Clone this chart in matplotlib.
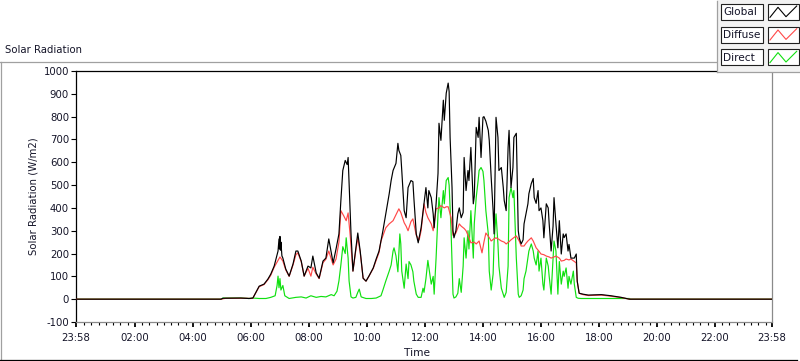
import matplotlib
matplotlib.use("Agg")
import matplotlib.pyplot as plt
from matplotlib.lines import Line2D
from matplotlib.patches import Rectangle
import numpy as np

# ---------------- data (time in minutes since midnight, W/m2) ----------------
global_t = [-2, 298, 302, 339, 356, 364, 377, 387, 395, 401, 408, 416, 418, 419, 420, 421, 422, 424, 426, 432,
            439, 447, 453, 457, 464, 470, 478, 484, 488, 495, 501, 509, 515, 521, 530, 536, 542, 546, 550, 555,
            559, 561, 563, 567, 571, 577, 581, 586, 592, 598, 604, 613, 619, 625, 633, 639, 646, 650, 654, 660,
            664, 666, 670, 672, 677, 681, 685, 691, 695, 697, 702, 706, 708, 712, 718, 722, 726, 728, 733, 737,
            739, 743, 747, 749, 753, 758, 760, 764, 768, 770, 772, 776, 778, 780, 784, 788, 791, 795, 799, 801,
            805, 809, 811, 815, 820, 822, 826, 830, 832, 836, 840, 842, 846, 851, 853, 857, 861, 863, 867, 871,
            873, 878, 882, 884, 888, 892, 894, 898, 902, 904, 909, 913, 915, 919, 923, 925, 929, 933, 935, 940,
            944, 946, 950, 954, 956, 960, 964, 966, 971, 975, 977, 981, 985, 987, 991, 995, 998, 1002, 1006, 1008,
            1012, 1016, 1018, 1022, 1029, 1033, 1035, 1039, 1047, 1058, 1085, 1105, 1126, 1143, 1438]
global_v = [0, 0, 4, 5, 3, 5, 57, 66, 88, 110, 145, 211, 264, 220, 275, 215, 250, 190, 180, 132,
            101, 154, 211, 211, 167, 101, 145, 137, 189, 115, 92, 167, 180, 264, 159, 220, 286, 432, 564, 608,
            590, 621, 507, 286, 123, 225, 290, 211, 92, 79, 101, 137, 176, 211, 300, 374, 462, 520, 564, 595,
            683, 652, 630, 564, 388, 357, 489, 520, 515, 445, 286, 247, 270, 313, 418, 489, 400, 476, 445, 374,
            313, 418, 551, 771, 696, 872, 784, 903, 947, 910, 709, 489, 300, 269, 300, 374, 400, 357, 380, 621,
            476, 564, 520, 665, 418, 450, 753, 709, 797, 621, 797, 800, 780, 740, 696, 533, 388, 286, 797, 709,
            564, 577, 489, 432, 388, 665, 740, 489, 577, 709, 727, 300, 269, 242, 260, 330, 374, 418, 462, 507,
            529, 445, 420, 476, 388, 400, 344, 269, 418, 400, 330, 211, 320, 445, 330, 225, 344, 198, 286, 270,
            286, 211, 240, 180, 180, 198, 79, 26, 22, 18, 20, 15, 8, 0, 0]

diffuse_t = [-2, 298, 308, 350, 360, 364, 377, 387, 395, 401, 408, 416, 420, 426, 432, 439, 447, 453, 457, 464,
             470, 478, 484, 488, 495, 501, 509, 515, 521, 530, 536, 542, 546, 552, 557, 561, 565, 571, 577, 581,
             586, 592, 598, 604, 613, 619, 625, 629, 639, 646, 654, 660, 666, 670, 677, 681, 685, 691, 695, 702,
             708, 712, 718, 722, 726, 733, 737, 743, 749, 753, 760, 764, 768, 774, 778, 784, 791, 795, 801, 805,
             811, 815, 822, 826, 832, 838, 842, 846, 853, 857, 863, 867, 873, 878, 884, 888, 894, 898, 904, 909,
             915, 919, 925, 929, 933, 940, 944, 950, 956, 960, 966, 971, 977, 981, 987, 991, 998, 1002, 1008, 1012,
             1018, 1022, 1029, 1033, 1035, 1039, 1047, 1058, 1085, 1105, 1126, 1143, 1438]
diffuse_v = [0, 0, 4, 4, 3, 5, 55, 64, 85, 105, 140, 170, 185, 167, 128, 100, 150, 195, 203, 165,
             101, 135, 101, 140, 110, 90, 160, 175, 211, 150, 176, 250, 388, 365, 344, 378, 286, 123, 215, 269,
             205, 92, 79, 100, 135, 170, 205, 255, 313, 330, 344, 370, 396, 380, 335, 320, 300, 340, 352, 280,
             260, 300, 418, 380, 357, 330, 300, 396, 400, 410, 400, 405, 405, 357, 280, 290, 330, 320, 310, 300,
             270, 247, 250, 242, 255, 203, 250, 290, 270, 255, 265, 269, 262, 255, 250, 242, 252, 260, 270, 277,
             255, 233, 233, 245, 255, 269, 255, 225, 210, 198, 195, 189, 185, 180, 185, 189, 180, 167, 170, 176,
             172, 176, 165, 159, 79, 26, 20, 16, 18, 13, 7, 0, 0]

direct_t = [-2, 298, 302, 339, 356, 364, 377, 391, 401, 410, 414, 416, 418, 420, 422, 426, 430, 439, 453, 464,
            474, 484, 495, 505, 515, 526, 532, 538, 542, 546, 550, 555, 557, 561, 563, 567, 571, 577, 581, 584,
            588, 598, 609, 619, 629, 633, 639, 646, 650, 654, 656, 660, 664, 668, 670, 672, 677, 681, 685, 687,
            691, 695, 697, 702, 706, 712, 716, 718, 722, 726, 728, 733, 737, 739, 743, 747, 749, 753, 758, 760,
            764, 768, 770, 774, 778, 780, 784, 788, 791, 795, 799, 801, 805, 809, 811, 815, 820, 822, 826, 830,
            832, 836, 840, 842, 846, 851, 853, 857, 861, 863, 867, 871, 873, 878, 882, 884, 888, 892, 894, 898,
            902, 904, 909, 913, 915, 919, 923, 925, 929, 933, 935, 940, 944, 946, 950, 954, 956, 960, 964, 966,
            971, 975, 977, 981, 985, 987, 991, 995, 998, 1002, 1006, 1008, 1012, 1016, 1018, 1022, 1027, 1029, 1033, 1037,
            1043, 1143, 1145, 1438]
direct_v = [0, 0, 5, 5, 3, 5, 3, 3, 8, 15, 60, 101, 50, 90, 40, 60, 15, 3, 8, 10,
            5, 15, 8, 12, 10, 20, 15, 35, 80, 150, 230, 200, 269, 180, 80, 10, 5, 8, 30, 44,
            10, 3, 3, 5, 15, 40, 80, 123, 150, 211, 225, 190, 120, 286, 242, 123, 48, 154, 90, 165,
            150, 120, 79, 22, 8, 8, 48, 30, 90, 170, 140, 66, 100, 22, 180, 374, 445, 357, 476, 418,
            520, 533, 500, 300, 22, 5, 10, 26, 90, 30, 145, 269, 180, 300, 220, 388, 180, 330, 445, 520,
            564, 577, 560, 520, 388, 286, 123, 40, 110, 250, 374, 242, 145, 48, 22, 8, 30, 145, 445, 489,
            445, 476, 180, 22, 8, 15, 40, 90, 123, 180, 211, 242, 211, 180, 150, 211, 123, 180, 66, 40,
            180, 145, 100, 22, 180, 255, 211, 22, 165, 66, 123, 100, 137, 48, 100, 66, 123, 66, 8, 4,
            3, 3, 0, 0]

series_names = ["Global", "Diffuse", "Direct"]
series_colors = ["#000000", "#ff4848", "#10e010"]

x_tick_pos = [-2, 120, 240, 360, 480, 600, 720, 840, 960, 1080, 1200, 1320, 1438]
x_tick_lab = ["23:58", "02:00", "04:00", "06:00", "08:00", "10:00", "12:00", "14:00",
              "16:00", "18:00", "20:00", "22:00", "23:58"]
y_ticks = list(range(-100, 1001, 100))

# ---------------- figure ----------------
W, H = 800, 361
fig = plt.figure(figsize=(W / 100, H / 100), dpi=100)
fig.patch.set_facecolor("white")
FONT = "DejaVu Sans"
FS = 7.3
TXT = "#141428"


def fx(px):
    return px / W


def fy(py):
    return 1 - py / H


ax = fig.add_axes([fx(76), fy(322), fx(772) - fx(76), fy(71) - fy(322)])
ax.set_facecolor("white")

ax.plot(direct_t, direct_v, color=series_colors[2], lw=0.85, zorder=2)
ax.plot(diffuse_t, diffuse_v, color=series_colors[1], lw=0.85, zorder=3)
ax.plot(global_t, global_v, color=series_colors[0], lw=0.85, zorder=4)

ax.set_xlim(-2, 1438)
ax.set_ylim(-100, 1000)

ax.set_yticks(y_ticks)
ax.set_yticklabels([str(v) for v in y_ticks], fontsize=FS, family=FONT, color=TXT)
ax.set_xticks(x_tick_pos)
ax.set_xticklabels(x_tick_lab, fontsize=FS, family=FONT, color=TXT)
minor = [m for m in range(15, 1438, 15) if m % 120 != 0]
ax.set_xticks(minor, minor=True)

ax.tick_params(axis="y", which="major", direction="out", length=3.5, width=0.8, pad=1.5, color="black")
ax.tick_params(axis="x", which="major", direction="out", length=3.6, width=1.3, pad=4, color="black")
ax.tick_params(axis="x", which="minor", direction="out", length=2.2, width=0.8, color="black")

for s in ["top", "left"]:
    ax.spines[s].set_color("black")
    ax.spines[s].set_linewidth(0.9)
for s in ["bottom", "right"]:
    ax.spines[s].set_color("#8a8a8a")
    ax.spines[s].set_linewidth(0.9)

fig.text(fx(33), fy(196), "Solar Radiation (W/m2)", rotation=90, ha="center", va="center",
         fontsize=FS, family=FONT, color=TXT)
fig.text(fx(417), fy(353), "Time", ha="center", va="center", fontsize=FS + 0.4, family=FONT, color=TXT)
fig.text(fx(5), fy(50), "Solar Radiation", ha="left", va="center", fontsize=FS, family=FONT, color=TXT)

# outer frame
fig.add_artist(Line2D([fx(0), fx(717)], [fy(62), fy(62)], color="#a0a0a0", lw=0.9))
fig.add_artist(Line2D([fx(0.5), fx(0.5)], [fy(62), fy(359)], color="#a0a0a0", lw=0.9))
fig.add_artist(Line2D([fx(0), fx(797)], [fy(359.5), fy(359.5)], color="black", lw=0.9))

# legend panel
fig.add_artist(Rectangle((fx(717), fy(72)), fx(800) - fx(717), fy(0) - fy(72),
                         facecolor="#f2f2f2", edgecolor="none", zorder=5))
fig.add_artist(Line2D([fx(717), fx(717)], [fy(1), fy(72)], color="#a0a0a0", lw=0.9, zorder=6))
fig.add_artist(Line2D([fx(717), fx(800)], [fy(72), fy(72)], color="#a0a0a0", lw=0.9, zorder=6))

row_tops = [4, 26.7, 49.3]
for name, col, top in zip(series_names, series_colors, row_tops):
    bot = top + 16
    fig.add_artist(Rectangle((fx(720.7), fy(bot)), fx(763.3) - fx(720.7), fy(top) - fy(bot),
                             facecolor="white", edgecolor="#202020", lw=0.8, zorder=7))
    fig.add_artist(Rectangle((fx(767.7), fy(bot)), fx(799) - fx(767.7), fy(top) - fy(bot),
                             facecolor="white", edgecolor="#202020", lw=0.8, zorder=7))
    fig.text(fx(723), fy(top + 8.3), name, ha="left", va="center", fontsize=FS + 0.3,
             family=FONT, color=TXT, zorder=8)
    zx = [770, 778, 786, 796.7]
    zy = [top + 13.3, top + 3.3, top + 12.7, top + 2]
    fig.add_artist(Line2D([fx(v) for v in zx], [fy(v) for v in zy], color=col, lw=0.8, zorder=8))

fig.savefig("out.png", dpi=100)
